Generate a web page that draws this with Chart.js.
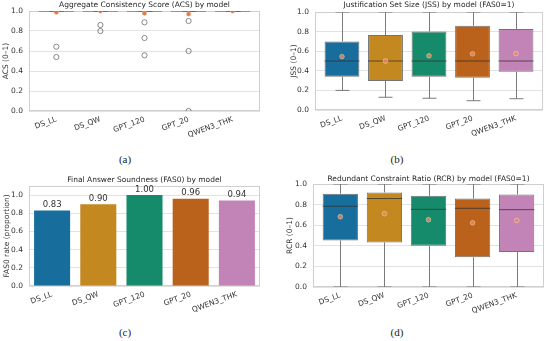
<!DOCTYPE html>
<html><head><meta charset="utf-8">
<script src="https://cdn.jsdelivr.net/npm/chart.js@4.4.0/dist/chart.umd.min.js"></script>
<style>
html,body{margin:0;padding:0;background:#fff}
body{width:550px;height:341px;position:relative;overflow:hidden}
canvas{position:absolute;display:block}
.cap{position:absolute;font-family:"Liberation Serif","DejaVu Serif",serif;font-size:11px;color:#222;transform:translate(-50%,-50%);white-space:nowrap}
</style></head><body>
<canvas id="ca" width="266" height="145" style="left:0;top:0"></canvas>
<canvas id="cb" width="272" height="145" style="left:278px;top:0"></canvas>
<canvas id="cc" width="266" height="146" style="left:0;top:170px"></canvas>
<canvas id="cd" width="272" height="146" style="left:278px;top:170px"></canvas>
<div class="cap" style="left:125px;top:159px">(a)</div>
<div class="cap" style="left:397px;top:159px">(b)</div>
<div class="cap" style="left:125px;top:332px">(c)</div>
<div class="cap" style="left:397px;top:332px">(d)</div>
<script>
// ---------- data ----------
const models = ['DS_LL', 'DS_QW', 'GPT_120', 'GPT_20', 'QWEN3_THK'];
const palette = ['#176d9c', '#c38820', '#168b6b', '#ba611b', '#c283b6'];
const yTicks01 = [0, 0.2, 0.4, 0.6, 0.8, 1.0];

// (a) ACS: boxes collapsed at 1.0, outliers, means
const acsQ1 = [1, 1, 1, 1, 1];
const acsMed = [1, 1, 1, 1, 1];
const acsQ3 = [1, 1, 1, 1, 1];
const acsLo = [1, 1, 1, 1, 1];
const acsHi = [1, 1, 1, 1, 1];
const acsMean = [0.987, 1.0, 0.977, 0.97, 1.0];
const acsOutliers = [[0.643, 0.54], [0.86, 0.80], [0.887, 0.73, 0.557], [0.90, 0.60, 0.0], []];

// (b) JSS
const jssQ1 = [0.34, 0.297, 0.34, 0.33, 0.39];
const jssMed = [0.5, 0.5, 0.5, 0.5, 0.5];
const jssQ3 = [0.70, 0.765, 0.80, 0.86, 0.826];
const jssLo = [0.20, 0.13, 0.12, 0.095, 0.115];
const jssHi = [1, 1, 1, 1, 1];
const jssMean = [0.545, 0.50, 0.553, 0.573, 0.576];

// (c) FAS0 rate
const fasRate = [0.83, 0.90, 1.00, 0.96, 0.94];
const fasTicks = [0, 0.2, 0.4, 0.6, 0.8, 1.0];

// (d) RCR
const rcrQ1 = [0.452, 0.433, 0.40, 0.289, 0.341];
const rcrMed = [0.784, 0.859, 0.754, 0.764, 0.751];
const rcrQ3 = [0.905, 0.918, 0.885, 0.859, 0.899];
const rcrLo = [0, 0, 0, 0, 0];
const rcrHi = [1, 1, 1, 1, 1];
const rcrMean = [0.682, 0.712, 0.653, 0.623, 0.646];

// ---------- styling ----------
const FONT = 'DejaVu Sans';
const txt = '#333333';
const f = (s) => ({family: FONT, size: s, weight: 'normal'});
const gridColor = '#e2e2e2';
const meanFill = 'rgba(238,140,88,0.78)';
const meanEdge = 'rgba(255,255,255,0.55)';

const framePlugin = {
  id: 'frame',
  beforeDatasetsDraw(chart) {
    const a = chart.chartArea, ctx = chart.ctx;
    ctx.save();
    ctx.strokeStyle = '#cfcfcf';
    ctx.lineWidth = 1;
    ctx.strokeRect(Math.round(a.left) + 0.5, Math.round(a.top) + 0.5,
      Math.round(a.right - a.left) - 1, Math.round(a.bottom - a.top) - 1);
    ctx.restore();
  }
};

function boxPlugin(q1, med, q3, lo, hi) {
  return {
    id: 'boxw',
    afterDatasetDraw(chart, args) {
      if (args.index !== 0) return;
      const y = chart.scales.y, ctx = chart.ctx, a = chart.chartArea;
      ctx.save();
      ctx.beginPath();
      ctx.rect(a.left, a.top, a.right - a.left, a.bottom - a.top);
      ctx.clip();
      const seg = (x1, y1, x2, y2) => { ctx.beginPath(); ctx.moveTo(x1, y1); ctx.lineTo(x2, y2); ctx.stroke(); };
      args.meta.data.forEach((el, i) => {
        const x = Math.round(el.x) + 0.5, w = el.width, cw = w * 0.2;
        ctx.lineWidth = 1;
        ctx.strokeStyle = '#7a7a7a';
        const yq1 = y.getPixelForValue(q1[i]), yq3 = y.getPixelForValue(q3[i]);
        const ylo = y.getPixelForValue(lo[i]), yhi = y.getPixelForValue(hi[i]);
        seg(x, yq3, x, yhi);
        seg(x, yq1, x, ylo);
        seg(x - cw, ylo, x + cw, ylo);
        seg(x - cw, yhi, x + cw, yhi);
        ctx.strokeStyle = 'rgba(50,50,50,0.75)';
        const ym = y.getPixelForValue(med[i]);
        seg(el.x - w / 2, ym, el.x + w / 2, ym);
      });
      ctx.restore();
    }
  };
}

function yAxis(title, width, padTop, ticks, max) {
  return {
    min: 0, max: max,
    afterBuildTicks: s => { s.ticks = ticks.map(v => ({value: v})); },
    ticks: {callback: v => Number(v).toFixed(1), font: f(7.5), color: txt, padding: 6},
    grid: {color: gridColor, drawTicks: false, lineWidth: 1},
    border: {display: false},
    title: {display: true, text: title, font: f(7.5), color: txt, padding: {top: padTop, bottom: 0}},
    afterFit: s => { s.width = width; }
  };
}

function xLinear(height) {
  return {
    type: 'linear', min: -0.62, max: 4.62, offset: false,
    afterBuildTicks: s => { s.ticks = models.map((m, i) => ({value: i})); },
    ticks: {callback: v => models[v], minRotation: 20, maxRotation: 20, autoSkip: false, font: f(7.5), color: txt, padding: 4},
    grid: {display: false, drawTicks: false},
    border: {display: false},
    afterFit: s => { s.height = height; }
  };
}

function titleOpt(text, top, bottom) {
  return {display: true, text: text, font: f(7.5), color: '#262626', padding: {top: top, bottom: bottom}, fullSize: false};
}

function boxChart(id, cfg) {
  const datasets = [{
    type: 'bar',
    data: models.map((m, i) => ({x: i, y: [cfg.q1[i], cfg.q3[i]]})),
    backgroundColor: cfg.fill ? palette : 'rgba(0,0,0,0)',
    borderColor: 'rgba(55,55,55,0.7)',
    borderWidth: cfg.fill ? 1 : 0,
    borderSkipped: false,
    categoryPercentage: 1, barPercentage: 0.8,
    order: 3, clip: 0
  }];
  if (cfg.outliers) {
    const pts = [];
    cfg.outliers.forEach((arr, i) => arr.forEach(v => pts.push({x: i, y: v})));
    datasets.push({type: 'scatter', data: pts, pointStyle: 'circle', pointRadius: 2.6,
      backgroundColor: 'rgba(0,0,0,0)', borderColor: '#7a7a7a', borderWidth: 0.9, order: 2, clip: 0});
  }
  datasets.push({type: 'scatter', data: models.map((m, i) => ({x: i, y: cfg.mean[i]})),
    pointStyle: 'circle', pointRadius: 2.4, backgroundColor: cfg.meanFill || meanFill, borderColor: meanEdge, borderWidth: 0.6,
    order: 1, clip: 0});
  return new Chart(document.getElementById(id), {
    type: 'bar',
    data: {datasets},
    options: {
      responsive: false, animation: false, devicePixelRatio: 1,
      layout: {padding: {left: 0, right: cfg.padR, top: 0, bottom: 0}},
      plugins: {legend: {display: false}, tooltip: {enabled: false}, title: cfg.title},
      scales: {x: xLinear(cfg.xh), y: cfg.y}
    },
    plugins: [framePlugin, boxPlugin(cfg.q1, cfg.med, cfg.q3, cfg.lo, cfg.hi)]
  });
}

// (a)
boxChart('ca', {q1: acsQ1, med: acsMed, q3: acsQ3, lo: acsLo, hi: acsHi, mean: acsMean, outliers: acsOutliers, fill: false,
  meanFill: 'rgba(226,110,50,0.9)',
  padR: 6, xh: 34, title: titleOpt('Aggregate Consistency Score (ACS) by model', 1, 1),
  y: yAxis('ACS (0–1)', 29, 1.5, yTicks01, 1)});

// (b)
boxChart('cb', {q1: jssQ1, med: jssMed, q3: jssQ3, lo: jssLo, hi: jssHi, mean: jssMean, fill: true,
  padR: 7, xh: 35, title: titleOpt('Justification Set Size (JSS) by model (FAS0=1)', 1, 2),
  y: yAxis('JSS (0–1)', 37, 11.5, yTicks01, 1)});

// (d)
boxChart('cd', {q1: rcrQ1, med: rcrMed, q3: rcrQ3, lo: rcrLo, hi: rcrHi, mean: rcrMean, fill: true,
  padR: 6, xh: 29, title: titleOpt('Redundant Constraint Ratio (RCR) by model (FAS0=1)', 5, 0),
  y: yAxis('RCR (0–1)', 35, 7.5, yTicks01, 1)});

// (c)
const labelPlugin = {
  id: 'vals',
  afterDatasetsDraw(chart) {
    const ctx = chart.ctx;
    ctx.save();
    ctx.font = '8.5px "' + FONT + '"';
    ctx.fillStyle = '#333333';
    ctx.textAlign = 'center';
    ctx.textBaseline = 'bottom';
    chart.getDatasetMeta(0).data.forEach((el, i) => {
      ctx.fillText(fasRate[i].toFixed(2), el.x, el.y - 1.5);
    });
    ctx.restore();
  }
};
new Chart(document.getElementById('cc'), {
  type: 'bar',
  data: {labels: models, datasets: [{data: fasRate, backgroundColor: palette, borderWidth: 0,
    categoryPercentage: 1, barPercentage: 0.78}]},
  options: {
    responsive: false, animation: false, devicePixelRatio: 1,
    layout: {padding: {left: 0, right: 6, top: 0, bottom: 0}},
    plugins: {legend: {display: false}, tooltip: {enabled: false},
      title: titleOpt('Final Answer Soundness (FAS0) by model', 6, 1)},
    scales: {
      x: {ticks: {minRotation: 20, maxRotation: 20, autoSkip: false, font: f(7.5), color: txt, padding: 4},
        grid: {display: false, drawTicks: false}, border: {display: false}, afterFit: s => { s.height = 30; }},
      y: yAxis('FAS0 rate (proportion)', 29, 3, fasTicks, 1.1)
    }
  },
  plugins: [framePlugin, labelPlugin]
});
</script>
</body></html>
